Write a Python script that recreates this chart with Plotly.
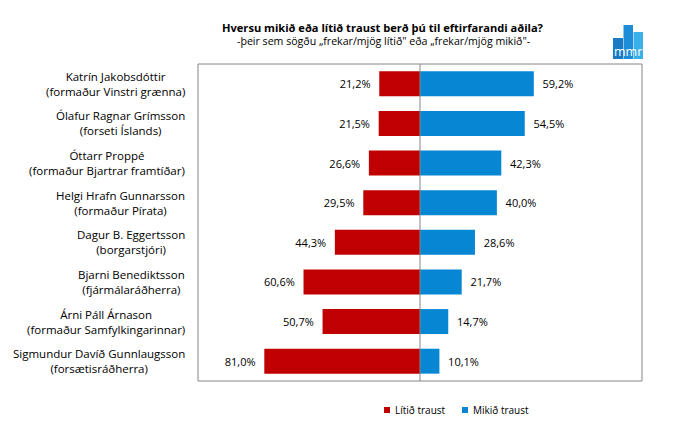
import plotly.graph_objects as go

categories = [
    "Katrín Jakobsdóttir<br>(formaður Vinstri grænna)",
    "Ólafur Ragnar Grímsson<br>(forseti Íslands)",
    "Óttarr Proppé<br>(formaður Bjartrar framtíðar)",
    "Helgi Hrafn Gunnarsson<br>(formaður Pírata)",
    "Dagur B. Eggertsson<br>(borgarstjóri)",
    "Bjarni Benediktsson<br>(fjármálaráðherra)",
    "Árni Páll Árnason<br>(formaður Samfylkingarinnar)",
    "Sigmundur Davíð Gunnlaugsson<br>(forsætisráðherra)",
]
litid = [21.2, 21.5, 26.6, 29.5, 44.3, 60.6, 50.7, 81.0]
mikid = [59.2, 54.5, 42.3, 40.0, 28.6, 21.7, 14.7, 10.1]
series_names = ["Lítið traust", "Mikið traust"]
series_colors = ["#C00000", "#0786D4"]

W, H = 686, 428
L, R, T, B = 198, 642, 64, 381
FONT = "Open Sans"
NB = "\u00a0"

def px(x):
    return (x - L) / (R - L)

def py(y):
    return (B - y) / (B - T)

def fmt(v):
    return f"{v:.1f}%".replace(".", ",")

fig = go.Figure()
fig.add_trace(go.Bar(
    y=categories, x=[-v for v in litid], orientation="h", name=series_names[0],
    marker=dict(color=series_colors[0], line=dict(width=0)), width=0.63,
    text=[fmt(v) + NB * 2 for v in litid], textposition="outside",
    textfont=dict(family=FONT, size=11, color="#000000"), cliponaxis=False,
    showlegend=False,
))
fig.add_trace(go.Bar(
    y=categories, x=mikid, orientation="h", name=series_names[1],
    marker=dict(color=series_colors[1], line=dict(width=0)), width=0.63,
    text=[NB * 2 + fmt(v) for v in mikid], textposition="outside",
    textfont=dict(family=FONT, size=11, color="#000000"), cliponaxis=False,
    showlegend=False,
))

annotations = []
for c in categories:
    annotations.append(dict(
        x=px(187), xref="paper", y=c, yref="y", text=c, showarrow=False,
        xanchor="right", yanchor="middle", align="center",
        font=dict(family=FONT, size=11.5, color="#000000"),
    ))
annotations.append(dict(
    x=px(383), xref="paper", y=py(27), yref="paper", showarrow=False,
    text="<b>Hversu mikið eða lítið traust berð þú til eftirfarandi aðila?</b>",
    font=dict(family=FONT, size=11.1, color="#000000"), xanchor="center", yanchor="middle",
))
annotations.append(dict(
    x=px(383), xref="paper", y=py(41), yref="paper", showarrow=False,
    text="-þeir sem sögðu „frekar/mjög lítið\" eða „frekar/mjög mikið\"-",
    font=dict(family=FONT, size=10.6, color="#000000"), xanchor="center", yanchor="middle",
))
annotations.append(dict(
    x=px(628), xref="paper", y=py(51.5), yref="paper", showarrow=False,
    text="mmr", font=dict(family=FONT, size=12.5, color="#FFFFFF"),
    xanchor="center", yanchor="middle",
))

shapes = [
    dict(type="rect", xref="paper", yref="paper", x0=px(613), x1=px(623), y0=py(59), y1=py(38),
         fillcolor="#1A7BC4", line=dict(width=0), layer="above"),
    dict(type="rect", xref="paper", yref="paper", x0=px(623.5), x1=px(633), y0=py(59), y1=py(25),
         fillcolor="#1E8DD8", line=dict(width=0), layer="above"),
    dict(type="rect", xref="paper", yref="paper", x0=px(633.5), x1=px(643), y0=py(59), y1=py(32),
         fillcolor="#3AB0EA", line=dict(width=0), layer="above"),
    dict(type="line", xref="x", yref="paper", x0=0, x1=0, y0=0, y1=1,
         line=dict(color="#868686", width=1), layer="above"),
    dict(type="rect", xref="paper", yref="paper", x0=0, x1=1, y0=0, y1=1,
         line=dict(color="#868686", width=1), layer="above"),
]

# manual legend (small squares as in the reference)
for name, col, sx in zip(series_names, series_colors, [384, 462]):
    shapes.append(dict(type="rect", xref="paper", yref="paper",
                       x0=px(sx), x1=px(sx + 6), y0=py(413), y1=py(407),
                       fillcolor=col, line=dict(width=0)))
    annotations.append(dict(
        x=px(sx + 9), xref="paper", y=py(410), yref="paper", showarrow=False,
        text=name, font=dict(family=FONT, size=10, color="#000000"),
        xanchor="left", yanchor="middle",
    ))

fig.update_layout(
    width=W, height=H,
    margin=dict(l=L, r=W - R, t=T, b=H - B),
    paper_bgcolor="#FFFFFF", plot_bgcolor="#FFFFFF",
    barmode="relative",
    showlegend=False,
    xaxis=dict(range=[-115.5, 115.5], showgrid=False, zeroline=False, showticklabels=False,
               ticks="", showline=False, fixedrange=True),
    yaxis=dict(categoryorder="array", categoryarray=categories, autorange="reversed",
               showticklabels=False, showgrid=False, zeroline=False, ticks="", showline=False),
    annotations=annotations, shapes=shapes,
    font=dict(family=FONT),
)

fig.write_html("out.html")
